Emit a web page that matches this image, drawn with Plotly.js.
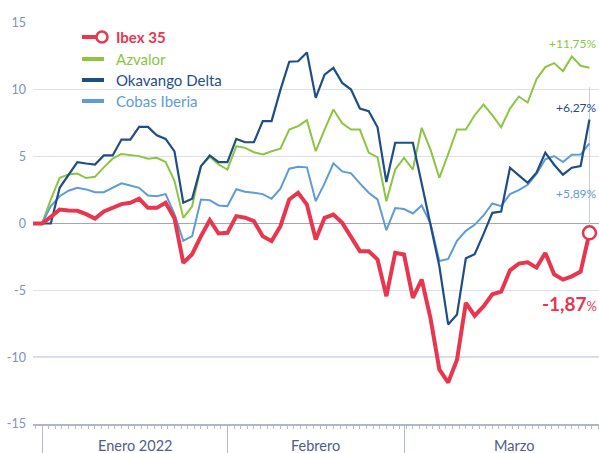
<!DOCTYPE html>
<html>
<head>
<meta charset="utf-8">
<script src="https://cdn.plot.ly/plotly-3.0.1.min.js"></script>
<style>
html,body{margin:0;padding:0;background:#fff;}
#chart{width:599px;height:453px;}
</style>
</head>
<body>
<div id="chart"></div>
<script>
// Trading days (base Dec 30 / Dec 31, 2021)
const dates = ["2021-12-30","2021-12-31",
"2022-01-03","2022-01-04","2022-01-05","2022-01-06","2022-01-07",
"2022-01-10","2022-01-11","2022-01-12","2022-01-13","2022-01-14",
"2022-01-17","2022-01-18","2022-01-19","2022-01-20","2022-01-21",
"2022-01-24","2022-01-25","2022-01-26","2022-01-27","2022-01-28","2022-01-31",
"2022-02-01","2022-02-02","2022-02-03","2022-02-04",
"2022-02-07","2022-02-08","2022-02-09","2022-02-10","2022-02-11",
"2022-02-14","2022-02-15","2022-02-16","2022-02-17","2022-02-18",
"2022-02-21","2022-02-22","2022-02-23","2022-02-24","2022-02-25","2022-02-28",
"2022-03-01","2022-03-02","2022-03-03","2022-03-04",
"2022-03-07","2022-03-08","2022-03-09","2022-03-10","2022-03-11",
"2022-03-14","2022-03-15","2022-03-16","2022-03-17","2022-03-18",
"2022-03-21","2022-03-22","2022-03-23","2022-03-24","2022-03-25",
"2022-03-28","2022-03-29"];

const ibex35 = [0,0,0.5,1.05,0.97,0.95,0.7,0.37,0.9,1.15,1.45,1.55,1.85,1.17,1.17,1.55,0.4,-2.94,-2.3,-0.95,0.25,-0.75,-0.7,0.55,0.43,0.17,-0.95,-1.32,-0.2,1.8,2.3,1.42,-1.2,0.43,0.67,0.05,-0.95,-2.07,-2.07,-2.69,-5.44,-2.19,-2.32,-5.56,-4.19,-7.1,-10.92,-11.9,-10.2,-5.93,-6.9,-6.2,-5.3,-5.1,-3.5,-3.0,-2.9,-3.3,-2.2,-3.8,-4.2,-3.95,-3.6,-0.7];

const azvalor = [0,0,1.8,3.42,3.67,3.74,3.4,3.49,4.2,4.85,5.2,5.1,5.04,4.84,4.91,4.6,3.2,0.42,1.29,4.29,4.99,4.41,4.04,5.78,5.66,5.33,5.16,5.41,5.6,7.03,7.28,7.73,5.41,7.03,8.53,7.5,7.03,7.03,5.3,4.95,1.67,4.04,4.91,4.04,7.16,5.53,3.42,5.2,7.03,7.03,8.1,8.9,8.1,7.2,8.6,9.5,9.05,10.8,11.7,12.0,11.4,12.5,11.8,11.65];

const okavango = [0,0,0,2.67,3.67,4.59,4.49,4.41,5.09,5.09,6.28,6.28,7.23,7.23,6.6,6.33,5.4,1.55,1.85,4.29,5.09,4.59,4.59,6.33,6.08,6.08,7.66,7.66,10.0,12.1,12.14,12.8,9.4,11.14,11.64,10.52,10.02,8.6,8.4,7.2,3.1,6.04,6.04,6.04,3.0,0.0,-3.2,-7.55,-6.8,-2.6,-2.3,-0.8,0.8,0.9,4.17,3.6,3.05,3.8,5.3,4.4,3.65,4.17,4.3,7.78];

const cobas = [0,0,1.3,2.04,2.45,2.67,2.55,2.34,2.34,2.67,3.0,2.84,2.67,2.1,2.04,2.2,0.7,-1.3,-0.95,1.8,1.75,1.35,1.3,2.56,2.38,2.3,2.2,1.85,2.6,4.1,4.25,4.2,1.67,3.0,4.5,3.9,3.75,3.0,2.3,1.8,-0.5,1.15,1.08,0.75,1.35,0.0,-2.8,-2.65,-1.3,-0.55,-0.1,0.6,1.5,1.3,2.2,2.5,2.9,3.7,4.8,5.05,4.6,5.15,5.16,6.0];

const seriesNames = ["Ibex 35","Azvalor","Okavango Delta","Cobas Iberia"];
const endLabels = ["-1,87","+11,75%","+6,27%","+5,89%"];
const yTickVals = [-15,-10,-5,0,5,10,15];
const yTickText = ["-15","-10","-5","0","5","10","15"];
const monthLabels = ["Enero 2022","Febrero","Marzo"];
const monthEnds = ["2021-12-31","2022-01-31","2022-02-28"];

const C = {red:"#e8364f", green:"#8cc540", navy:"#1f4e87", blue:"#5d9cd6"};
const idx = dates.map((d,i)=>i);
const last = idx.length-1;
const monthTickIdx = monthEnds.map(d=>dates.indexOf(d));

// pixel -> paper helpers (plot area: l=33, t=23, w=566, h=401)
const L=33,T=23,W=566,H=401;
const px=x=>(x-L)/W, py=y=>(T+H-y)/H;

const traces = [
  {x:idx,y:azvalor,type:"scatter",mode:"lines",line:{color:C.green,width:2},hoverinfo:"skip"},
  {x:idx,y:cobas,type:"scatter",mode:"lines",line:{color:C.blue,width:2},hoverinfo:"skip"},
  {x:idx,y:okavango,type:"scatter",mode:"lines",line:{color:C.navy,width:2.2},hoverinfo:"skip"},
  {x:idx,y:ibex35,type:"scatter",mode:"lines",line:{color:C.red,width:4},hoverinfo:"skip"},
  {x:[idx[last]],y:[ibex35[last]],type:"scatter",mode:"markers",cliponaxis:false,
   marker:{size:13,color:"#ffffff",line:{color:C.red,width:2.5}},hoverinfo:"skip"}
];

const legendY=[37,59,80,101];
const legendCol=[C.red,C.green,C.navy,C.blue];
const shapes = [
  {type:"rect",xref:"paper",yref:"paper",x0:px(66),x1:px(240),y0:py(112),y1:py(27),fillcolor:"#ffffff",line:{width:0},layer:"between"},
  {type:"line",xref:"paper",yref:"y",x0:0,x1:1,y0:-10,y1:-10,line:{color:"#8f98ba",width:1},layer:"between"},
  {type:"line",xref:"x",yref:"y",x0:idx[last],x1:idx[last],y0:ibex35[last],y1:10.2,line:{color:"#c9cdd8",width:1},layer:"between"}
];
legendY.forEach((y,i)=>{
  shapes.push({type:"line",xref:"paper",yref:"paper",x0:px(82),x1:px(i===0?98:104),y0:py(y),y1:py(y),line:{color:legendCol[i],width:4}});
});
shapes.push({type:"circle",xref:"paper",yref:"paper",x0:px(96.5),x1:px(107.5),y0:py(42.5),y1:py(31.5),fillcolor:"#ffffff",line:{color:C.red,width:2.5}});

const annotations = [];
seriesNames.forEach((n,i)=>{
  annotations.push({xref:"paper",yref:"paper",x:px(114),y:py(legendY[i]),xanchor:"left",yanchor:"middle",showarrow:false,
    text:i===0?"<b>"+n+"</b>":n,font:{family:"Lato",size:15,color:legendCol[i]}});
});
annotations.push({xref:"paper",yref:"paper",x:1,y:py(43),xanchor:"right",yanchor:"middle",showarrow:false,text:endLabels[1],font:{family:"Lato",size:12,color:C.green}});
annotations.push({xref:"paper",yref:"paper",x:1,y:py(107),xanchor:"right",yanchor:"middle",showarrow:false,text:endLabels[2],font:{family:"Lato",size:12,color:C.navy}});
annotations.push({xref:"paper",yref:"paper",x:1,y:py(193),xanchor:"right",yanchor:"middle",showarrow:false,text:endLabels[3],font:{family:"Lato",size:12,color:C.blue}});
annotations.push({xref:"paper",yref:"paper",x:1,y:py(303),xanchor:"right",yanchor:"middle",showarrow:false,
  text:"<b>"+endLabels[0]+"</b><span style='font-size:13px'>%</span>",font:{family:"Lato",size:19,color:C.red}});
const monthCenters=[(monthTickIdx[0]+monthTickIdx[1])/2,(monthTickIdx[1]+monthTickIdx[2])/2,(monthTickIdx[2]+last+4)/2];
monthLabels.forEach((m,i)=>{
  annotations.push({xref:"x",yref:"paper",x:monthCenters[i],y:py(446),xanchor:"center",yanchor:"middle",showarrow:false,
    text:m,font:{family:"Lato",size:14.5,color:"#4e5d8c"}});
});

const layout = {
  width:599,height:453,
  margin:{l:L,r:0,t:T,b:453-T-H,pad:0},
  paper_bgcolor:"#ffffff",plot_bgcolor:"#ffffff",
  showlegend:false,
  font:{family:"Lato"},
  xaxis:{range:[-0.02,64.08],tickmode:"array",tickvals:monthTickIdx,ticktext:["","",""],
    ticks:"outside",ticklen:29,tickcolor:"#b3bad2",tickwidth:1,
    showgrid:false,zeroline:false,showline:true,linecolor:"#aeb5cf",linewidth:1.5,
    minor:{ticks:"outside",ticklen:3,tickcolor:"#b3bad2",tick0:1,dtick:0.75,showgrid:false},
    fixedrange:true},
  yaxis:{range:[-15,15],tickmode:"array",tickvals:yTickVals,ticktext:yTickText,
    ticks:"",ticklabelstandoff:6,tickfont:{family:"Lato",size:12.5,color:"#8290bb"},
    showgrid:true,gridcolor:"#dde1ec",gridwidth:1,
    zeroline:true,zerolinecolor:"#a4a7b2",zerolinewidth:1.2,showline:false,fixedrange:true},
  shapes:shapes,
  annotations:annotations
};

Plotly.newPlot("chart",traces,layout,{displayModeBar:false,staticPlot:true});
</script>
</body>
</html>
